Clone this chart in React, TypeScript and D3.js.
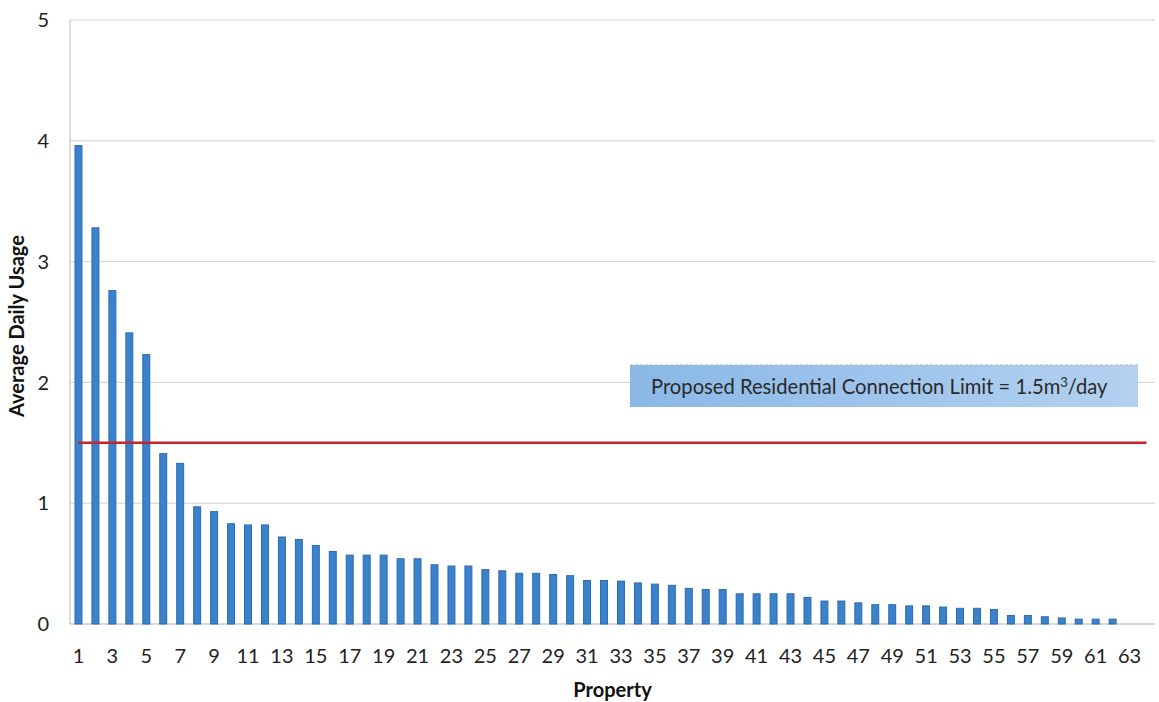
import React from "react";
import * as d3 from "d3";

// Average daily usage per property (m³/day), sorted high to low
const properties: number[] = d3.range(1, 65);
const usage: number[] = [
  3.96, 3.28, 2.76, 2.41, 2.23, 1.41, 1.33, 0.97, 0.93, 0.83,
  0.82, 0.82, 0.72, 0.7, 0.65, 0.6, 0.57, 0.57, 0.57, 0.54,
  0.54, 0.49, 0.48, 0.48, 0.45, 0.44, 0.42, 0.42, 0.41, 0.4,
  0.36, 0.36, 0.355, 0.34, 0.33, 0.32, 0.295, 0.285, 0.285, 0.25,
  0.25, 0.25, 0.25, 0.22, 0.19, 0.19, 0.175, 0.16, 0.16, 0.15,
  0.15, 0.14, 0.13, 0.13, 0.12, 0.07, 0.07, 0.06, 0.05, 0.04,
  0.04, 0.04, 0, 0,
];
const limit = 1.5;
const yTicks: number[] = [0, 1, 2, 3, 4, 5];
const xTickLabels: number[] = properties.filter((p) => p % 2 === 1);
const limitLabel = "Proposed Residential Connection Limit = 1.5m";
const limitUnit = "/day";

const W = 1159;
const H = 702;
const left = 70;
const right = 1155;
const top = 20;
const bottom = 624;

export default function App() {
  const x = d3
    .scaleBand<number>()
    .domain(properties)
    .range([left, right])
    .paddingInner(0.59)
    .paddingOuter(0.295);
  const y = d3.scaleLinear().domain([0, 5]).range([bottom, top]);
  const cx = (p: number) => (x(p) ?? 0) + x.bandwidth() / 2;

  const limitLine = d3
    .line<number>()
    .x((p) => cx(p))
    .y(() => y(limit))(properties);

  const font = "Lato, 'Open Sans', sans-serif";

  return (
    <svg
      width={W}
      height={H}
      style={{ position: "absolute", left: 0, top: 0, background: "#fff" }}
      fontFamily={font}
    >
      <defs>
        <linearGradient id="boxFill" x1="0" y1="0" x2="1" y2="0">
          <stop offset="0" stopColor="#8ab8e7" />
          <stop offset="1" stopColor="#b3d1f0" />
        </linearGradient>
      </defs>

      {/* gridlines */}
      {yTicks.slice(1).map((t) => (
        <line
          key={t}
          x1={left}
          x2={right}
          y1={y(t)}
          y2={y(t)}
          stroke="#d2d2d2"
          strokeWidth={1}
        />
      ))}

      {/* axes */}
      <line x1={left} x2={left} y1={top} y2={bottom} stroke="#b8b8b8" strokeWidth={1} />
      <line x1={left} x2={right} y1={bottom} y2={bottom} stroke="#b9b2a8" strokeWidth={1.2} />

      {/* bars */}
      {properties.map((p, i) =>
        usage[i] > 0 ? (
          <rect
            key={p}
            x={x(p)}
            y={y(usage[i])}
            width={x.bandwidth()}
            height={y(0) - y(usage[i])}
            fill="#3b82cc"
            stroke="#2c69ad"
            strokeWidth={1}
          />
        ) : null
      )}

      {/* limit line */}
      <path d={limitLine ?? ""} fill="none" stroke="#c4262b" strokeWidth={2.6} />

      {/* limit annotation */}
      <rect x={630} y={365} width={508} height={42} fill="url(#boxFill)" />
      <line x1={630} x2={1138} y1={365} y2={365} stroke="#a9b4c0" strokeWidth={1} strokeDasharray="3 2" />
      <text x={651} y={394} fontSize={20.2} fill="#2a2a2a">
        {limitLabel}
        <tspan dy={-7} fontSize={13}>3</tspan>
        <tspan dy={7}>{limitUnit}</tspan>
      </text>

      {/* y tick labels */}
      {yTicks.map((t) => (
        <text
          key={t}
          x={49}
          y={y(t)}
          dy="0.36em"
          textAnchor="end"
          fontSize={20}
          fill="#222"
        >
          {t}
        </text>
      ))}

      {/* x tick labels */}
      {xTickLabels.map((p) => (
        <text key={p} x={cx(p)} y={663} textAnchor="middle" fontSize={20} fill="#222">
          {p}
        </text>
      ))}

      {/* axis titles */}
      <text
        x={(left + right) / 2}
        y={697}
        textAnchor="middle"
        fontSize={20}
        fontWeight="bold"
        fill="#111"
      >
        Property
      </text>
      <text
        transform={`translate(24, ${(top + bottom) / 2 + 4}) rotate(-90)`}
        textAnchor="middle"
        fontSize={20}
        fontWeight="bold"
        fill="#111"
      >
        Average Daily Usage
      </text>
    </svg>
  );
}
